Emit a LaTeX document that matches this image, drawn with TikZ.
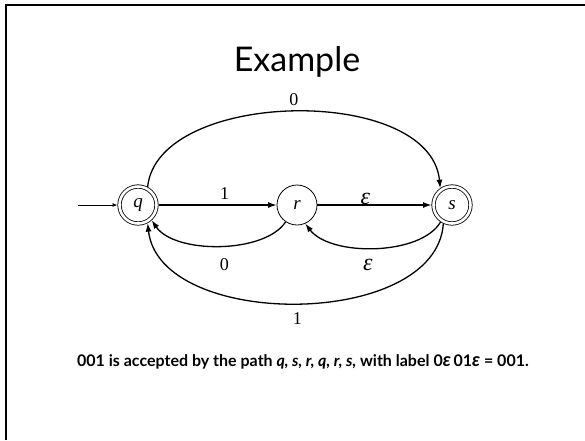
\documentclass[tikz,border=0pt]{standalone}
\usepackage{fontspec}
\setmainfont{Liberation Serif}
\newfontfamily\titlefont{Lato}
\newfontfamily\capfont{Lato}
\usetikzlibrary{arrows.meta}
\begin{document}
\begin{tikzpicture}[x=1pt,y=-1pt,
  stnode/.style={circle,draw,line width=0.8pt,minimum size=40pt,inner sep=0pt,
    font=\fontsize{19}{19}\selectfont\itshape},
  accept/.style={stnode,double,double distance=2.6pt,minimum size=37pt,outer sep=2pt},
  edge/.style={line width=1.3pt,-{Latex[length=8.5pt,width=6pt]}},
  lab/.style={inner sep=1pt,font=\fontsize{18}{18}\selectfont},
  eps/.style={inner sep=1pt,font=\fontsize{24}{24}\selectfont\itshape}]
\useasboundingbox (0,0) rectangle (585,440);
\draw[line width=2pt] (6,440) -- (6,5) -- (585,5);

\node[font=\titlefont\fontsize{34}{34}\selectfont, anchor=base] (title) at (297,71) {Example};

\node[accept] (q) at (138,205) {q};
\node[stnode] (r) at (297,205) {r};
\node[accept] (s) at (452,205) {s};
\coordinate (init) at (78,205);

\draw[line width=0.8pt,-{Latex[length=5pt,width=4pt]}] (init) -- (q);
\draw[edge] (q) -- node[lab,pos=0.56,above=3.5pt] (l1) {1} (r);
\draw[edge] (r) -- node[eps,pos=0.42,above=-1pt] (l2) {ε} (s);
\draw[edge] (q.62) .. controls +(10,-98) and +(-10,-104) .. node[lab,above=4pt] (l3) {0} (s.125);
\draw[edge] (r.236) .. controls +(-21,32) and +(23,34) .. node[lab,below=11pt,xshift=5pt] (l4) {0} (q.312);
\draw[edge] (s.236) .. controls +(-20,34) and +(25,33) .. node[eps,below=10pt,xshift=-7pt] (l5) {ε} (r.294);
\draw[edge] (s.245) .. controls +(-7,106) and +(12,107) .. node[lab,below=8pt] (l6) {1} (q.298);

\node[font=\capfont\bfseries\fontsize{16}{16}\selectfont, anchor=base] (cap) at (303,366)
  {001 is accepted by the path \textit{q, s, r, q, r, s,} with label 0{\fontsize{19}{19}\selectfont\itshape ε}\,01{\fontsize{19}{19}\selectfont\itshape ε} = 001.};
\end{tikzpicture}
\end{document}
